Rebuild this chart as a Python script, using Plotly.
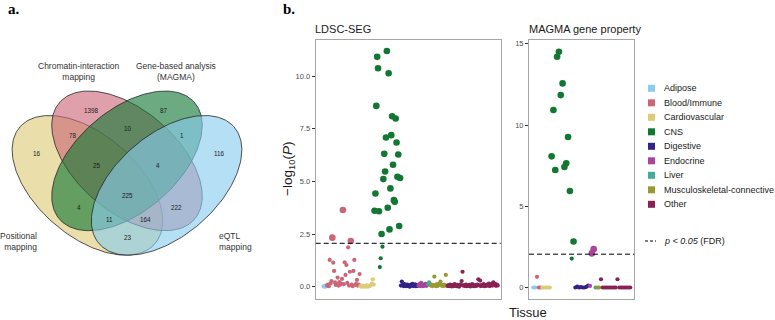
import numpy as np
import plotly.graph_objects as go

W, H = 775, 320

# ---------------- Panel a: Venn data ----------------
venn_set_labels = ["Positional<br>mapping", "Chromatin-interaction<br>mapping",
                   "Gene-based analysis<br>(MAGMA)", "eQTL<br>mapping"]
venn_colors = ["#DDCC77", "#CC6677", "#117733", "#88CCEE"]
# region counts (A=Positional, B=Chromatin, C=MAGMA, D=eQTL)
venn_region_names = ["A", "B", "C", "D", "AB", "BC", "CD", "ABC", "BCD", "ABCD",
                     "AC", "BD", "ACD", "ABD", "AD"]
venn_counts = [16, 1398, 87, 116, 78, 10, 1, 25, 4, 225, 4, 222, 11, 164, 23]

# ---------------- Panel b: tissue enrichment data ----------------
tissue_groups = ["Adipose", "Blood/Immune", "Cardiovascular", "CNS", "Digestive",
                 "Endocrine", "Liver", "Musculoskeletal-connective", "Other"]
group_colors = ["#88CCEE", "#CC6677", "#DDCC77", "#117733", "#332288",
                "#AA4499", "#44AA99", "#999933", "#882255"]

ldsc_adipose = [0.02, 0.0, 0.05, 0.01]
ldsc_blood = [0.05, 0.10, 0.02, 1.27, 0.15, 0.27, 2.33, 1.14, 0.75, 0.20,
              0.08, 0.12, 0.43, 0.05, 0.22, 0.10, 0.15, 0.37, 3.64, 0.12,
              1.16, 0.56, 1.03, 0.18, 1.87, 0.05, 0.71, 2.17, 0.10, 0.02,
              0.75, 1.27, 0.08, 0.14, 0.32, 0.05, 0.10, 0.60]
ldsc_cardio = [0.03, 0.0, 0.05, 0.02, 0.0, 0.04, 0.01, 0.06, 0.0, 0.03,
               0.02, 0.05, 0.08, 0.15, 0.35, 0.10]
ldsc_cns = [3.61, 4.43, 8.59, 10.92, 10.38, 3.58, 0.93, 1.35, 2.50, 1.90,
            5.11, 6.31, 5.47, 7.09, 11.20, 3.75, 10.14, 2.72, 4.67, 7.20,
            8.10, 5.79, 4.11, 4.03, 7.99, 6.85, 5.22, 6.28, 2.88, 5.16]
ldsc_digestive = [0.05, 0.24, 0.08, 0.03, 0.12, 0.06, 0.02, 0.10, 0.04, 0.07,
                  0.0, 0.09, 0.05, 0.13, 0.03, 0.06, 0.11, 0.02, 0.08, 0.04]
ldsc_endocrine = [0.06, 0.12, 0.03, 0.18, 0.08, 0.02, 0.10, 0.05, 0.14, 0.04, 0.09]
ldsc_liver = [0.12, 0.20, 0.08]
ldsc_musculo = [0.05, 0.10, 0.03, 0.08, 0.48, 0.06, 0.02, 0.12, 0.04, 0.09,
                0.15, 0.24, 0.05, 0.07, 0.03, 0.10, 0.06, 0.56, 0.04]
ldsc_other = [0.04, 0.08, 0.02, 0.10, 0.05, 0.01, 0.07, 0.03, 0.12, 0.06,
              0.02, 0.09, 0.04, 0.00, 0.06, 0.11, 0.27, 0.71, 0.05, 0.08,
              0.03, 0.10, 0.02, 0.06, 0.04, 0.09, 0.01, 0.05, 0.12, 0.03,
              0.07, 0.02, 0.08, 0.04, 0.10, 0.35, 0.06, 0.29, 0.03, 0.09,
              0.05, 0.12, 0.02, 0.07, 0.04, 0.10, 0.06, 0.15, 0.03, 0.08,
              0.12, 0.05, 0.21, 0.09, 0.14, 0.04, 0.10, 0.06]

magma_adipose = [0.0, 0.0]
magma_blood = [0.66, 0.0, 0.0]
magma_cardio = [0.0, 0.0, 0.0, 0.0, 0.0]
magma_cns = [8.07, 10.92, 7.23, 14.20, 14.51, 11.84, 12.56, 7.42, 7.64, 9.26,
             5.94, 1.78, 2.83]
magma_digestive = [0.0, 0.05, 0.0, 0.02, 0.0, 0.0, 0.04, 0.12]
magma_endocrine = [0.10, 2.10, 2.36]
magma_liver = [0.0]
magma_musculo = [0.0, 0.0]
magma_other = [0.51, 0.0, 0.0, 0.0, 0.0, 0.0, 0.0, 0.0, 0.0, 0.51,
               0.0, 0.0, 0.0, 0.0, 0.0, 0.0, 0.0]

ldsc_values = [ldsc_adipose, ldsc_blood, ldsc_cardio, ldsc_cns, ldsc_digestive,
               ldsc_endocrine, ldsc_liver, ldsc_musculo, ldsc_other]
magma_values = [magma_adipose, magma_blood, magma_cardio, magma_cns, magma_digestive,
                magma_endocrine, magma_liver, magma_musculo, magma_other]

ldsc_threshold = 2.06
magma_threshold = 2.05
fdr_label = "<i>p &lt; 0.05</i> (FDR)"

# ---------------- helpers ----------------
def fx(px):
    return px / W


def fy(py):
    return 1 - py / H


FONT = "Liberation Sans, Arial, sans-serif"
fig = go.Figure()

# ---------------- Venn ellipses (VennDiagram quad geometry) ----------------
V_X0, V_SX, V_Y0, V_SY = -5.0, 264.0, 300.5, 245.0
ell_params = [(0.35, 0.47, -45), (0.50, 0.57, -45), (0.50, 0.57, 45), (0.65, 0.47, 45)]
EA, EB = 0.35, 0.20
t = np.linspace(0, 2 * np.pi, 240)


def hex_rgba(h, a):
    h = h.lstrip("#")
    return "rgba(%d,%d,%d,%.2f)" % (int(h[0:2], 16), int(h[2:4], 16), int(h[4:6], 16), a)


for (cx, cy, ang), col in zip(ell_params, venn_colors):
    r = np.deg2rad(ang)
    u = cx + EA * np.cos(t) * np.cos(r) - EB * np.sin(t) * np.sin(r)
    v = cy + EA * np.cos(t) * np.sin(r) + EB * np.sin(t) * np.cos(r)
    fig.add_trace(go.Scatter(
        x=V_X0 + V_SX * u, y=V_Y0 - V_SY * v, mode="lines", fill="toself",
        fillcolor=hex_rgba(col, 0.62), line=dict(color="#262626", width=0.8),
        xaxis="x3", yaxis="y3", hoverinfo="skip", showlegend=False))

venn_label_pos = [(37.3, 153.3), (91.7, 110), (164.3, 110), (219, 153.3),
                  (73.3, 135), (127.5, 128.3), (181.7, 135), (97.3, 165),
                  (157.7, 165), (127.7, 195), (79.3, 207.3), (176, 207.3),
                  (109, 219.3), (145.7, 219.3), (127.7, 237.3)]
annotations = []
for (px, py), n in zip(venn_label_pos, venn_counts):
    annotations.append(dict(x=px, y=py, xref="x3", yref="y3", text=str(n), showarrow=False,
                            font=dict(family=FONT, size=6.3, color="#1a1a1a"),
                            xanchor="center", yanchor="middle"))

set_label_specs = [(39, 241.5, "right"), (79, 71, "center"), (176, 71, "center"), (216.5, 241.5, "left")]
for (px, py, al), lab in zip(set_label_specs, venn_set_labels):
    annotations.append(dict(x=px, y=py, xref="x3", yref="y3", text=lab, showarrow=False,
                            font=dict(family=FONT, size=8.5, color="#333333"),
                            xanchor=al, yanchor="middle", align=al))

# ---------------- Scatter panels ----------------
def add_panel(values, thr, xa, ya):
    start = 0
    for vals, col in zip(values, group_colors):
        vals = np.asarray(vals, dtype=float)
        xs = start + np.arange(len(vals))
        sizes = np.where(vals > thr, 6.6, 4.2)
        fig.add_trace(go.Scatter(x=xs, y=vals, mode="markers",
                                 marker=dict(color=col, size=sizes, opacity=1, line=dict(width=0)),
                                 xaxis=xa, yaxis=ya, showlegend=False, hoverinfo="skip"))
        start += len(vals)


add_panel(ldsc_values, ldsc_threshold, "x", "y")
add_panel(magma_values, magma_threshold, "x2", "y2")

shapes = []
for xa, ya, thr in [("x", "y", ldsc_threshold), ("x2", "y2", magma_threshold)]:
    shapes.append(dict(type="line", xref=xa + " domain", yref=ya, x0=0, x1=1, y0=thr, y1=thr,
                       line=dict(color="black", width=1, dash="5px,3px")))

# legend (drawn manually)
leg_y0, leg_dy = 88.3, 14.5
for i, (g, col) in enumerate(zip(tissue_groups, group_colors)):
    yc = leg_y0 + i * leg_dy
    shapes.append(dict(type="rect", xref="paper", yref="paper",
                       x0=fx(648), x1=fx(655), y0=fy(yc + 3.5), y1=fy(yc - 3.5),
                       fillcolor=col, line=dict(width=0)))
    annotations.append(dict(x=fx(661.5), y=fy(yc), xref="paper", yref="paper", text=g,
                            showarrow=False, xanchor="left", yanchor="middle",
                            font=dict(family=FONT, size=9, color="#1a1a1a")))
shapes.append(dict(type="line", xref="paper", yref="paper", x0=fx(645), x1=fx(656),
                   y0=fy(241), y1=fy(241), line=dict(color="black", width=1, dash="3px,2px")))
annotations.append(dict(x=fx(661.5), y=fy(241), xref="paper", yref="paper", text=fdr_label,
                        showarrow=False, xanchor="left", yanchor="middle",
                        font=dict(family=FONT, size=9, color="#1a1a1a")))

# titles / labels
annotations += [
    dict(x=fx(6), y=fy(9), xref="paper", yref="paper", text="<b>a.</b>", showarrow=False,
         xanchor="left", yanchor="middle", font=dict(family="Liberation Serif, Times New Roman, serif", size=15, color="black")),
    dict(x=fx(281), y=fy(9), xref="paper", yref="paper", text="<b>b.</b>", showarrow=False,
         xanchor="left", yanchor="middle", font=dict(family="Liberation Serif, Times New Roman, serif", size=15, color="black")),
    dict(x=fx(313), y=fy(29), xref="paper", yref="paper", text="LDSC-SEG", showarrow=False,
         xanchor="left", yanchor="middle", font=dict(family=FONT, size=11, color="#1a1a1a")),
    dict(x=fx(527), y=fy(29), xref="paper", yref="paper", text="MAGMA gene property", showarrow=False,
         xanchor="left", yanchor="middle", font=dict(family=FONT, size=11, color="#1a1a1a")),
    dict(x=fx(288), y=fy(169), xref="paper", yref="paper", text="\u2212log<sub>10</sub>(<i>P</i>)",
         showarrow=False, textangle=-90, xanchor="center", yanchor="middle",
         font=dict(family=FONT, size=13.5, color="#1a1a1a")),
    dict(x=fx(527.5), y=fy(312), xref="paper", yref="paper", text="Tissue", showarrow=False,
         xanchor="center", yanchor="middle", font=dict(family=FONT, size=13, color="#1a1a1a")),
]

axis_common = dict(showgrid=False, zeroline=False, showline=True, mirror=True,
                   linecolor="#a6a6a6", linewidth=1)
ydom = [fy(299.3), fy(40)]
fig.update_layout(
    width=W, height=H, margin=dict(l=0, r=0, t=0, b=0),
    paper_bgcolor="white", plot_bgcolor="white", showlegend=False,
    xaxis=dict(domain=[fx(315.7), fx(500.7)], range=[-8.9, 201.4], showticklabels=False,
               ticks="", anchor="y", **axis_common),
    yaxis=dict(domain=ydom, range=[-0.6, 11.72], anchor="x", tickvals=[0, 2.5, 5, 7.5, 10],
               ticktext=["0.0", "2.5", "5.0", "7.5", "10.0"], ticks="outside", ticklen=3,
               tickcolor="#333333", tickwidth=1,
               tickfont=dict(family=FONT, size=7.5, color="#4d4d4d"), **axis_common),
    xaxis2=dict(domain=[fx(529), fx(634.3)], range=[-2.35, 55.2], showticklabels=False,
                ticks="", anchor="y2", **axis_common),
    yaxis2=dict(domain=ydom, range=[-0.725, 15.23], anchor="x2", tickvals=[0, 5, 10, 15],
                ticks="outside", ticklen=3, tickcolor="#333333", tickwidth=1,
                tickfont=dict(family=FONT, size=7.5, color="#4d4d4d"), **axis_common),
    xaxis3=dict(domain=[0, fx(265)], range=[0, 265], visible=False, anchor="y3"),
    yaxis3=dict(domain=[0, 1], range=[H, 0], visible=False, anchor="x3"),
    shapes=shapes, annotations=annotations,
)

fig.write_html("out.html", config={"displayModeBar": False, "staticPlot": True},
               post_script="document.body.style.margin='0';document.body.style.overflow='hidden';")
